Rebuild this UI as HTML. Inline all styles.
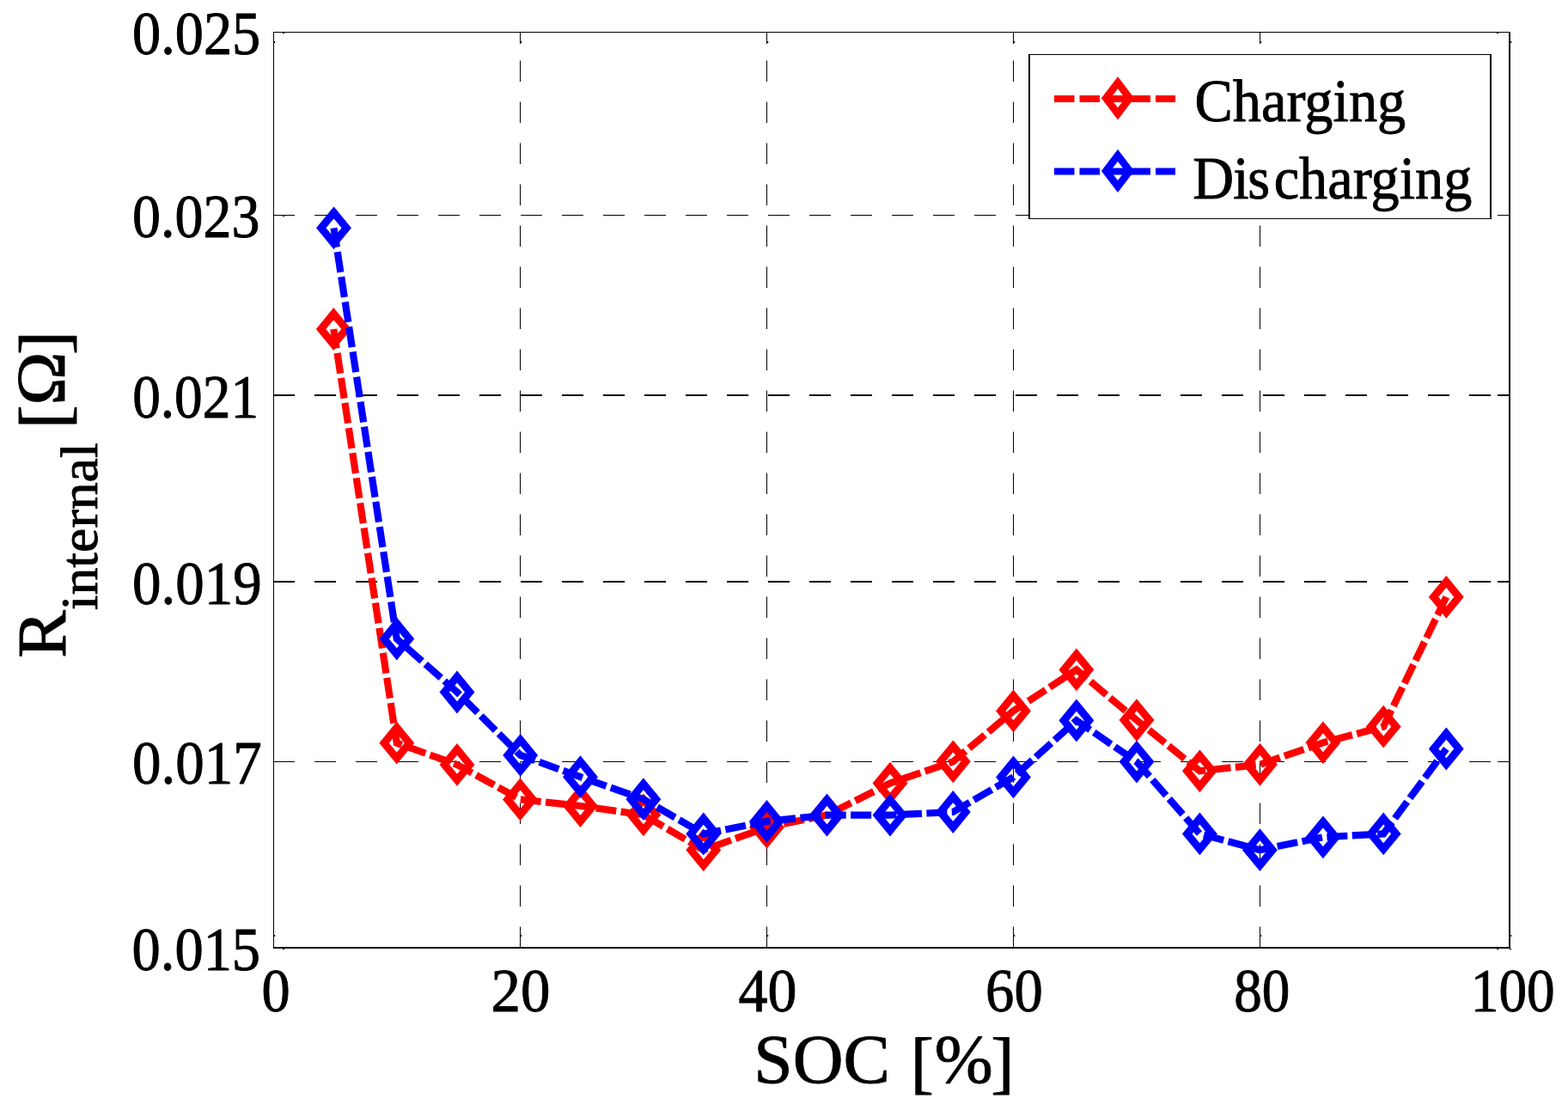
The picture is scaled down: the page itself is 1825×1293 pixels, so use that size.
<!DOCTYPE html>
<html><head><meta charset="utf-8"><title>R internal vs SOC</title>
<style>html,body{margin:0;padding:0;background:#fff;width:1825px;height:1293px;overflow:hidden}</style>
</head><body>
<svg width="1825" height="1293" viewBox="0 0 1825 1293" style="position:absolute;left:0;top:0;display:block">
<rect x="0" y="0" width="1825" height="1293" fill="#fff"/>
<line x1="318" y1="250.5" x2="1757" y2="250.5" stroke="#000" stroke-width="1" stroke-dasharray="25 23"/>
<line x1="318" y1="460" x2="1757" y2="460" stroke="#000" stroke-width="2" stroke-dasharray="25 23"/>
<line x1="318" y1="677" x2="1757" y2="677" stroke="#000" stroke-width="2" stroke-dasharray="25 23"/>
<line x1="318" y1="886.5" x2="1757" y2="886.5" stroke="#000" stroke-width="1" stroke-dasharray="25 23"/>
<line x1="605.5" y1="1103" x2="605.5" y2="37" stroke="#000" stroke-width="1" stroke-dasharray="24.5 23.5"/>
<line x1="892.5" y1="1103" x2="892.5" y2="37" stroke="#000" stroke-width="1" stroke-dasharray="24.5 23.5"/>
<line x1="1179.5" y1="1103" x2="1179.5" y2="37" stroke="#000" stroke-width="1" stroke-dasharray="24.5 23.5"/>
<line x1="1466.5" y1="1103" x2="1466.5" y2="37" stroke="#000" stroke-width="1" stroke-dasharray="24.5 23.5"/>
<line x1="605.5" y1="37" x2="605.5" y2="51" stroke="#000" stroke-width="1"/>
<line x1="605.5" y1="1103" x2="605.5" y2="1089" stroke="#000" stroke-width="1"/>
<line x1="892.5" y1="37" x2="892.5" y2="51" stroke="#000" stroke-width="1"/>
<line x1="892.5" y1="1103" x2="892.5" y2="1089" stroke="#000" stroke-width="1"/>
<line x1="1179.5" y1="37" x2="1179.5" y2="51" stroke="#000" stroke-width="1"/>
<line x1="1179.5" y1="1103" x2="1179.5" y2="1089" stroke="#000" stroke-width="1"/>
<line x1="1466.5" y1="37" x2="1466.5" y2="51" stroke="#000" stroke-width="1"/>
<line x1="1466.5" y1="1103" x2="1466.5" y2="1089" stroke="#000" stroke-width="1"/>
<line x1="318" y1="250.5" x2="332" y2="250.5" stroke="#000" stroke-width="1"/>
<line x1="1757" y1="250.5" x2="1743" y2="250.5" stroke="#000" stroke-width="1"/>
<line x1="318" y1="460" x2="332" y2="460" stroke="#000" stroke-width="2"/>
<line x1="1757" y1="460" x2="1743" y2="460" stroke="#000" stroke-width="2"/>
<line x1="318" y1="677" x2="332" y2="677" stroke="#000" stroke-width="2"/>
<line x1="1757" y1="677" x2="1743" y2="677" stroke="#000" stroke-width="2"/>
<line x1="318" y1="886.5" x2="332" y2="886.5" stroke="#000" stroke-width="1"/>
<line x1="1757" y1="886.5" x2="1743" y2="886.5" stroke="#000" stroke-width="1"/>
<path d="M388.3,383.0 L461.8,864.7 L532.0,889.9 L605.5,930.4 L675.5,938.0 L748.9,948.3 L818.8,989.3 L892.5,962.8 L962.5,948.6 L1036.0,911.6 L1109.3,886.3 L1179.5,827.4 L1252.9,779.4 L1323.0,838.1 L1396.4,897.3 L1466.4,889.8 L1539.9,864.3 L1610.2,845.7 L1683.3,694.8" fill="none" stroke="#ff0000" stroke-width="8.2" stroke-dasharray="24 5.425" stroke-dashoffset="1.3" stroke-linejoin="miter" stroke-linecap="butt"/>
<path d="M388.3,365.1L403.0,383.0L388.3,400.9L373.6,383.0ZM461.8,846.8L476.5,864.7L461.8,882.6L447.1,864.7ZM532.0,872.0L546.7,889.9L532.0,907.8L517.3,889.9ZM605.5,912.5L620.2,930.4L605.5,948.3L590.8,930.4ZM675.5,920.1L690.2,938.0L675.5,955.9L660.8,938.0ZM748.9,930.4L763.6,948.3L748.9,966.2L734.2,948.3ZM818.8,971.4L833.5,989.3L818.8,1007.2L804.1,989.3ZM892.5,944.9L907.2,962.8L892.5,980.7L877.8,962.8ZM962.5,930.7L977.2,948.6L962.5,966.5L947.8,948.6ZM1036.0,893.7L1050.7,911.6L1036.0,929.5L1021.3,911.6ZM1109.3,868.4L1124.0,886.3L1109.3,904.2L1094.6,886.3ZM1179.5,809.5L1194.2,827.4L1179.5,845.3L1164.8,827.4ZM1252.9,761.5L1267.6,779.4L1252.9,797.3L1238.2,779.4ZM1323.0,820.2L1337.7,838.1L1323.0,856.0L1308.3,838.1ZM1396.4,879.4L1411.1,897.3L1396.4,915.2L1381.7,897.3ZM1466.4,871.9L1481.1,889.8L1466.4,907.7L1451.7,889.8ZM1539.9,846.4L1554.6,864.3L1539.9,882.2L1525.2,864.3ZM1610.2,827.8L1624.9,845.7L1610.2,863.6L1595.5,845.7ZM1683.3,676.9L1698.0,694.8L1683.3,712.7L1668.6,694.8Z" fill="none" stroke="#ff0000" stroke-width="8.9" stroke-linejoin="miter" stroke-miterlimit="10"/>
<path d="M388.5,265.3 L461.8,743.5 L532.0,805.5 L605.7,878.9 L675.5,904.2 L748.9,930.2 L818.8,970.5 L892.5,955.9 L962.5,948.6 L1036.0,948.6 L1109.3,945.0 L1179.5,904.4 L1252.9,838.5 L1323.0,886.6 L1396.4,970.4 L1466.4,989.2 L1539.9,974.3 L1610.2,970.4 L1683.3,871.5" fill="none" stroke="#0000ff" stroke-width="8.2" stroke-dasharray="24 5.425" stroke-dashoffset="1.3" stroke-linejoin="miter" stroke-linecap="butt"/>
<path d="M388.5,247.4L403.2,265.3L388.5,283.2L373.8,265.3ZM461.8,725.6L476.5,743.5L461.8,761.4L447.1,743.5ZM532.0,787.6L546.7,805.5L532.0,823.4L517.3,805.5ZM605.7,861.0L620.4,878.9L605.7,896.8L591.0,878.9ZM675.5,886.3L690.2,904.2L675.5,922.1L660.8,904.2ZM748.9,912.3L763.6,930.2L748.9,948.1L734.2,930.2ZM818.8,952.6L833.5,970.5L818.8,988.4L804.1,970.5ZM892.5,938.0L907.2,955.9L892.5,973.8L877.8,955.9ZM962.5,930.7L977.2,948.6L962.5,966.5L947.8,948.6ZM1036.0,930.7L1050.7,948.6L1036.0,966.5L1021.3,948.6ZM1109.3,927.1L1124.0,945.0L1109.3,962.9L1094.6,945.0ZM1179.5,886.5L1194.2,904.4L1179.5,922.3L1164.8,904.4ZM1252.9,820.6L1267.6,838.5L1252.9,856.4L1238.2,838.5ZM1323.0,868.7L1337.7,886.6L1323.0,904.5L1308.3,886.6ZM1396.4,952.5L1411.1,970.4L1396.4,988.3L1381.7,970.4ZM1466.4,971.3L1481.1,989.2L1466.4,1007.1L1451.7,989.2ZM1539.9,956.4L1554.6,974.3L1539.9,992.2L1525.2,974.3ZM1610.2,952.5L1624.9,970.4L1610.2,988.3L1595.5,970.4ZM1683.3,853.6L1698.0,871.5L1683.3,889.4L1668.6,871.5Z" fill="none" stroke="#0000ff" stroke-width="8.9" stroke-linejoin="miter" stroke-miterlimit="10"/>
<line x1="318.5" y1="37" x2="318.5" y2="1104" stroke="#000" stroke-width="1"/>
<line x1="318" y1="37.5" x2="1758" y2="37.5" stroke="#000" stroke-width="1"/>
<line x1="1757" y1="37" x2="1757" y2="1104" stroke="#000" stroke-width="2"/>
<line x1="318" y1="1103" x2="1758" y2="1103" stroke="#000" stroke-width="2"/>
<rect x="319" y="48" width="1.2" height="2" fill="#000"/>
<rect x="319" y="1088" width="1.2" height="2" fill="#000"/>
<rect x="606" y="48" width="1.2" height="2" fill="#000"/>
<rect x="606" y="1088" width="1.2" height="2" fill="#000"/>
<rect x="893" y="48" width="1.2" height="2" fill="#000"/>
<rect x="893" y="1088" width="1.2" height="2" fill="#000"/>
<rect x="1180" y="48" width="1.2" height="2" fill="#000"/>
<rect x="1180" y="1088" width="1.2" height="2" fill="#000"/>
<rect x="1467" y="48" width="1.2" height="2" fill="#000"/>
<rect x="1467" y="1088" width="1.2" height="2" fill="#000"/>
<rect x="1758" y="48" width="1.2" height="2" fill="#000"/>
<rect x="1758" y="1088" width="1.2" height="2" fill="#000"/>
<rect x="329" y="38" width="2" height="1.3" fill="#000"/>
<rect x="329" y="251" width="2" height="1.3" fill="#000"/>
<rect x="329" y="1104" width="2" height="1.3" fill="#000"/>
<rect x="1742" y="38" width="2" height="1.3" fill="#000"/>
<rect x="1742" y="1104" width="2" height="1.3" fill="#000"/>
<rect x="1757" y="1104" width="2" height="1.3" fill="#000"/>
<rect x="1197" y="63" width="538" height="192" fill="#fff"/>
<line x1="1198" y1="63" x2="1198" y2="255" stroke="#000" stroke-width="2"/>
<line x1="1735" y1="63" x2="1735" y2="255" stroke="#000" stroke-width="2"/>
<line x1="1197" y1="63.5" x2="1736" y2="63.5" stroke="#000" stroke-width="1"/>
<line x1="1197" y1="254.5" x2="1736" y2="254.5" stroke="#000" stroke-width="1"/>
<line x1="1227" y1="114.9" x2="1368" y2="114.9" stroke="#ff0000" stroke-width="8" stroke-dasharray="23.5 6"/>
<path d="M1301.0,96.2L1314.8,114.3L1301.0,132.4L1287.2,114.3Z" fill="none" stroke="#ff0000" stroke-width="8.5" stroke-linejoin="miter" stroke-miterlimit="10"/>
<line x1="1227" y1="199.4" x2="1368" y2="199.4" stroke="#0000ff" stroke-width="8" stroke-dasharray="23.5 6"/>
<path d="M1301.0,180.8L1314.8,198.9L1301.0,217.0L1287.2,198.9Z" fill="none" stroke="#0000ff" stroke-width="8.5" stroke-linejoin="miter" stroke-miterlimit="10"/>
<text transform="translate(154.115,62.509) scale(0.66250,0.72185)" font-family="'Liberation Serif', 'Times New Roman', serif" font-size="100" stroke="#000" stroke-width="1.300" stroke-linejoin="round">0.025</text>
<text transform="translate(154.123,275.504) scale(0.65887,0.72479)" font-family="'Liberation Serif', 'Times New Roman', serif" font-size="100" stroke="#000" stroke-width="1.301" stroke-linejoin="round">0.023</text>
<text transform="translate(154.143,485.504) scale(0.65280,0.72479)" font-family="'Liberation Serif', 'Times New Roman', serif" font-size="100" stroke="#000" stroke-width="1.307" stroke-linejoin="round">0.021</text>
<text transform="translate(154.092,702.509) scale(0.66982,0.72185)" font-family="'Liberation Serif', 'Times New Roman', serif" font-size="100" stroke="#000" stroke-width="1.293" stroke-linejoin="round">0.019</text>
<text transform="translate(154.089,911.509) scale(0.67003,0.72185)" font-family="'Liberation Serif', 'Times New Roman', serif" font-size="100" stroke="#000" stroke-width="1.293" stroke-linejoin="round">0.017</text>
<text transform="translate(153.622,1129.011) scale(0.66436,0.72185)" font-family="'Liberation Serif', 'Times New Roman', serif" font-size="100" stroke="#000" stroke-width="1.299" stroke-linejoin="round">0.015</text>
<text transform="translate(304.606,1177.011) scale(0.66392,0.72185)" font-family="'Liberation Serif', 'Times New Roman', serif" font-size="100" stroke="#000" stroke-width="1.299" stroke-linejoin="round">0</text>
<text transform="translate(571.544,1177.011) scale(0.68940,0.72185)" font-family="'Liberation Serif', 'Times New Roman', serif" font-size="100" stroke="#000" stroke-width="1.275" stroke-linejoin="round">20</text>
<text transform="translate(859.528,1177.011) scale(0.67927,0.72185)" font-family="'Liberation Serif', 'Times New Roman', serif" font-size="100" stroke="#000" stroke-width="1.285" stroke-linejoin="round">40</text>
<text transform="translate(1147.110,1177.011) scale(0.66579,0.72185)" font-family="'Liberation Serif', 'Times New Roman', serif" font-size="100" stroke="#000" stroke-width="1.297" stroke-linejoin="round">60</text>
<text transform="translate(1436.139,1177.011) scale(0.65122,0.72185)" font-family="'Liberation Serif', 'Times New Roman', serif" font-size="100" stroke="#000" stroke-width="1.311" stroke-linejoin="round">80</text>
<text transform="translate(1711.859,1177.011) scale(0.65238,0.72185)" font-family="'Liberation Serif', 'Times New Roman', serif" font-size="100" stroke="#000" stroke-width="1.310" stroke-linejoin="round">100</text>
<text transform="translate(1390.618,140.570) scale(0.66337,0.70533)" font-family="'Liberation Serif', 'Times New Roman', serif" font-size="100" stroke="#000" stroke-width="1.315" stroke-linejoin="round">Charging</text>
<text transform="translate(877.345,1260.030) scale(0.8150,0.8119)" font-family="'Liberation Serif', 'Times New Roman', serif" font-size="100" stroke="#000" stroke-width="1.106" stroke-linejoin="round" dx="0 0 0 0 4.27 1.0 -2.96" dy="0 0 0 0 3.7 -3.7 3.7">SOC [%]</text>
<text transform="translate(1388.360,231.480) scale(0.6629,0.7033)" font-family="'Liberation Serif', 'Times New Roman', serif" font-size="100" stroke="#000" stroke-width="1.318" stroke-linejoin="round" dx="0 -1.5 -2 6.89">Discharging</text>
<text transform="translate(75.550,766.070) rotate(-90) scale(0.8400,0.8030)" font-family="'Liberation Serif', 'Times New Roman', serif" font-size="100" stroke="#000" stroke-width="1.096" stroke-linejoin="round">R<tspan font-size="76" dx="-0.34" dy="47.1">internal</tspan><tspan font-size="100" dx="-5.93 0 -0.48 -4.28" dy="-47.1 3.1 -4.4 4.4"> [Ω]</tspan></text>
</svg>
</body></html>
